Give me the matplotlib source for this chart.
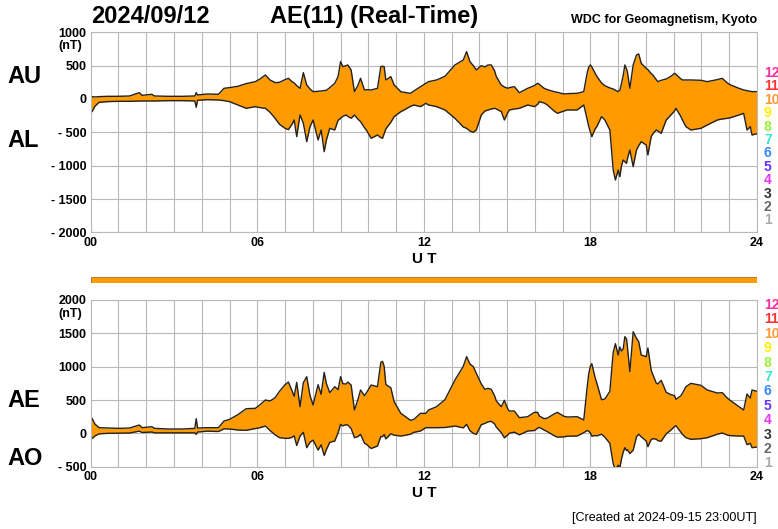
import matplotlib.pyplot as plt
import numpy as np

plt.rcParams["font.family"] = ["Liberation Sans", "DejaVu Sans"]

# hourly AU / AL values (nT), 2024-09-12
hours = [
    0.00, 0.05, 0.15, 0.30, 0.60, 1.00, 1.40, 1.75, 1.85, 2.20, 2.30, 2.80,
    3.30, 3.75, 3.80, 3.85, 4.20, 4.60, 4.80, 5.00, 5.30, 5.60, 5.93, 6.10,
    6.29, 6.46, 6.64, 6.80, 7.00, 7.12, 7.25, 7.33, 7.42, 7.54, 7.66, 7.78,
    7.90, 8.01, 8.19, 8.30, 8.41, 8.49, 8.61, 8.79, 8.91, 9.00, 9.08, 9.20,
    9.26, 9.38, 9.50, 9.62, 9.72, 9.86, 9.95, 10.10, 10.33, 10.45, 10.51, 10.57,
    10.63, 10.69, 10.81, 10.93, 11.17, 11.29, 11.52, 11.64, 11.88, 12.07, 12.17, 12.46,
    12.76, 13.12, 13.42, 13.54, 13.66, 13.78, 13.89, 14.07, 14.20, 14.31, 14.43, 14.55,
    14.61, 14.79, 14.90, 15.03, 15.08, 15.26, 15.44, 15.74, 15.98, 16.10, 16.16, 16.33,
    16.45, 16.69, 16.81, 17.05, 17.17, 17.52, 17.76, 17.88, 17.94, 18.00, 18.05, 18.17,
    18.23, 18.40, 18.52, 18.70, 18.82, 18.90, 19.00, 19.06, 19.12, 19.18, 19.24, 19.30,
    19.33, 19.42, 19.54, 19.66, 19.74, 19.83, 20.01, 20.07, 20.19, 20.25, 20.37, 20.43,
    20.55, 20.73, 20.90, 21.03, 21.08, 21.26, 21.32, 21.44, 21.62, 21.98, 22.21, 22.57,
    22.75, 22.93, 23.05, 23.35, 23.52, 23.64, 23.76, 23.82, 24.00,
]
au = [
    40, 35, 30, 35, 40, 40, 45, 95, 55, 70, 45, 40,
    40, 45, 95, 60, 75, 70, 160, 170, 190, 230, 260, 300,
    360, 285, 245, 250, 290, 310, 260, 240, 200, 160, 395, 210,
    150, 110, 115, 120, 125, 130, 170, 235, 335, 560, 485, 500,
    510, 435, 110, 200, 310, 135, 140, 135, 160, 485, 490, 485,
    285, 300, 335, 210, 110, 100, 85, 120, 185, 235, 260, 285,
    340, 510, 585, 710, 560, 500, 435, 500, 480, 510, 510, 420,
    335, 210, 180, 160, 170, 185, 95, 160, 200, 235, 220, 160,
    140, 110, 100, 75, 80, 85, 110, 385, 480, 510, 480, 385,
    340, 240, 200, 165, 150, 130, 110, 130, 235, 350, 510, 450,
    410, 160, 510, 660, 675, 535, 460, 440, 380, 360, 290, 260,
    280, 300, 340, 385, 370, 300, 285, 285, 285, 280, 260, 290,
    310, 240, 210, 160, 135, 125, 115, 110, 110,
]
al = [
    -170, -190, -110, -50, -40, -35, -35, -30, -30, -30, -30, -25,
    -25, -30, -125, -20, -10, -15, -25, -40, -90, -140, -115, -130,
    -140, -200, -290, -380, -440, -460, -380, -315, -565, -240, -365, -640,
    -415, -315, -615, -465, -790, -615, -440, -465, -320, -290, -260, -240,
    -260, -290, -240, -300, -340, -430, -480, -590, -540, -580, -590, -520,
    -450, -415, -350, -265, -190, -165, -110, -90, -115, -65, -90, -115,
    -165, -290, -420, -440, -480, -500, -465, -240, -180, -165, -150, -140,
    -150, -190, -315, -200, -165, -150, -140, -90, -115, -80, -40, -60,
    -90, -180, -215, -180, -165, -165, -90, -300, -415, -500, -565, -450,
    -415, -265, -315, -465, -1065, -1215, -1065, -1165, -1000, -915, -940, -965,
    -900, -765, -1015, -765, -700, -640, -690, -840, -565, -520, -465, -480,
    -515, -315, -240, -180, -140, -265, -320, -415, -465, -440, -390, -315,
    -300, -290, -280, -240, -215, -465, -415, -540, -520,
]

t = np.array(hours)
au = np.array(au)
al = np.array(al)
ae = au - al
ao = (au + al) / 2

orange = "#ff9a00"
gridc = "#b8b8b8"
lvl_labels = ["12", "11", "10", "9", "8", "7", "6", "5", "4", "3", "2", "1"]
lvl_colors = ["#ff2d9a", "#ff3030", "#ff9933", "#ffee00", "#99f23a", "#33e8c8",
              "#3388ff", "#6633ff", "#ee33ee", "#333333", "#666666", "#aaaaaa"]

fig = plt.figure(figsize=(7.78, 5.29), dpi=100)
ax1 = fig.add_axes([0.1166, 0.5607, 0.8564, 0.3783])
ax2 = fig.add_axes([0.1166, 0.1178, 0.8564, 0.3151])
bar = fig.add_axes([0.1166, 0.465, 0.8564, 0.0113])


def style(ax, ylo, yhi, yticks, ylabels):
    ax.set_xlim(0, 24)
    ax.set_ylim(ylo, yhi)
    ax.set_xticks(np.arange(0, 25, 1), minor=True)
    ax.set_xticks([0, 6, 12, 18, 24])
    ax.set_xticklabels(["00", "06", "12", "18", "24"], fontsize=9, fontweight="bold")
    ax.set_yticks(yticks)
    ax.set_yticklabels(ylabels, fontsize=9, fontweight="bold")
    ax.grid(True, which="both", axis="x", color=gridc, lw=0.8)
    ax.grid(True, which="major", axis="y", color=gridc, lw=0.8)
    ax.tick_params(which="both", length=0, pad=3)
    ax.set_axisbelow(True)
    for s in ax.spines.values():
        s.set_color(gridc)
        s.set_linewidth(0.8)
    ax.annotate("U T", xy=(0.5, 0), xycoords="axes fraction", xytext=(0, -19),
                textcoords="offset points", ha="center", va="center",
                fontsize=11, fontweight="bold")


# AU / AL panel
ax1.fill_between(t, al, au, color=orange, lw=0)
ax1.plot(t, au, color="#222222", lw=1)
ax1.plot(t, al, color="#222222", lw=1)
style(ax1, -2000, 1000, [-2000, -1500, -1000, -500, 0, 500, 1000],
      ["- 2000", "- 1500", "- 1000", "- 500", "0", "500", "1000"])

# AE / AO panel
ax2.fill_between(t, ao, ae, color=orange, lw=0)
ax2.plot(t, ae, color="#222222", lw=1)
ax2.plot(t, ao, color="#222222", lw=1)
style(ax2, -500, 2000, [-500, 0, 500, 1000, 1500, 2000],
      ["- 500", "0", "500", "1000", "1500", "2000"])

bar.set_xlim(0, 1)
bar.set_ylim(0, 1)
bar.add_patch(plt.Rectangle((0, 0), 1, 1, facecolor=orange, edgecolor="#aa7020", lw=0.6))
bar.axis("off")

fig.text(0.1166, 0.968, "2024/09/12", fontsize=17, fontweight="bold", va="center")
fig.text(0.347, 0.968, "AE(11) (Real-Time)", fontsize=17, fontweight="bold", va="center")
fig.text(0.973, 0.962, "WDC for Geomagnetism, Kyoto", fontsize=9, fontweight="bold",
         ha="right", va="center")
fig.text(0.106, 0.913, "(nT)", fontsize=9, fontweight="bold", ha="right", va="center")
fig.text(0.106, 0.407, "(nT)", fontsize=9, fontweight="bold", ha="right", va="center")
fig.text(0.01, 0.855, "AU", fontsize=17, fontweight="bold", va="center")
fig.text(0.01, 0.735, "AL", fontsize=17, fontweight="bold", va="center")
fig.text(0.01, 0.243, "AE", fontsize=17, fontweight="bold", va="center")
fig.text(0.01, 0.133, "AO", fontsize=17, fontweight="bold", va="center")
fig.text(0.973, 0.02, "[Created at 2024-09-15 23:00UT]", fontsize=9,
         ha="right", va="center")

# activity level scale at the right edge
for i, (lab, c) in enumerate(zip(lvl_labels, lvl_colors)):
    fig.text(0.982, 1 - (73 + i * 13.4) / 529, lab, color=c, fontsize=10,
             fontweight="bold", va="center")
    fig.text(0.982, 1 - (305 + i * 14.4) / 529, lab, color=c, fontsize=10,
             fontweight="bold", va="center")

fig.savefig("out.png", dpi=100)
